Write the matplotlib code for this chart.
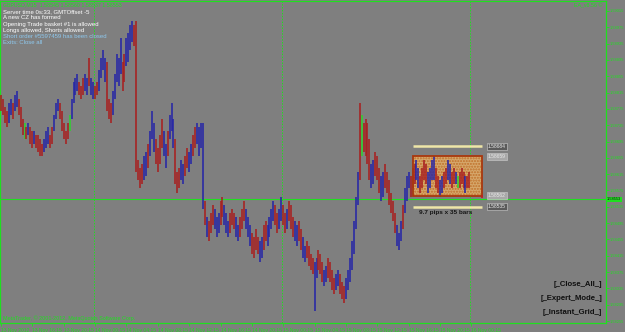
import numpy as np
import matplotlib.pyplot as plt
from matplotlib.patches import Rectangle

# GBPUSD M15 bars, values are pips above 1.58000
base = 1.58
pip = 0.0001

low_pips = [77, 76, 74, 73, 74, 76, 75, 77, 78, 76, 73, 71, 70, 70, 71, 69, 68, 69, 68, 67,
            66, 66, 67, 68, 69, 68, 69, 72, 75, 77, 75, 72, 70, 69, 70, 72, 75, 79, 81, 82,
            81, 80, 81, 82, 81, 83, 81, 80, 80, 81, 82, 85, 87, 84, 77, 75, 74, 76, 80, 84,
            83, 86, 82, 84, 88, 89, 92, 94, 93, 62, 60, 58, 59, 60, 61, 63, 66, 70, 67, 64,
            62, 64, 68, 66, 63, 66, 70, 72, 68, 59, 57, 58, 60, 59, 61, 63, 62, 64, 66, 68,
            69, 66, 68, 53, 49, 46, 45, 47, 49, 48, 46, 47, 49, 51, 49, 47, 46, 47, 49, 48,
            46, 45, 46, 48, 50, 48, 46, 44, 42, 41, 43, 42, 40, 41, 43, 45, 44, 46, 48, 50,
            49, 47, 48, 50, 49, 47, 48, 50, 48, 46, 45, 44, 45, 43, 41, 40, 41, 39, 38, 37,
            28, 36, 38, 37, 35, 34, 35, 36, 35, 33, 32, 33, 34, 32, 31, 30, 31, 33, 35, 38,
            42, 48, 54, 60, 66, 67, 66, 64, 60, 58, 59, 61, 60, 57, 55, 56, 58, 57, 54, 52,
            50, 47, 44, 43, 45, 48, 52, 55, 58, 56, 58, 59, 60, 58, 57, 58, 60, 59, 57, 58,
            60, 60, 58, 57, 56, 57, 58, 59, 60, 59, 58, 59, 59, 58, 58, 59, 58, 57, 58, 58,
            57, 57, 56, 57, 56, 55.5]
high_pips = [81, 80, 78, 77, 79, 80, 79, 81, 82, 80, 78, 75, 74, 73, 74, 73, 72, 72, 71, 71,
             70, 69, 70, 72, 73, 71, 73, 76, 79, 80, 79, 77, 74, 72, 74, 76, 80, 84, 85, 86,
             84, 83, 85, 86, 85, 90, 85, 84, 83, 84, 87, 90, 92, 90, 89, 80, 79, 82, 86, 91,
             90, 95, 89, 91, 95, 96, 98, 99, 98, 99, 65, 63, 64, 66, 67, 69, 72, 77, 74, 70,
             68, 71, 75, 72, 69, 72, 76, 79, 75, 70, 62, 63, 65, 64, 66, 68, 67, 69, 71, 73,
             74, 73, 74, 74, 55, 51, 50, 52, 54, 53, 51, 52, 55, 56, 54, 52, 50, 52, 53, 52,
             51, 49, 51, 53, 55, 53, 51, 49, 47, 46, 48, 46, 45, 46, 49, 50, 49, 51, 53, 55,
             54, 52, 53, 56, 54, 52, 53, 55, 54, 51, 50, 49, 50, 48, 46, 44, 45, 44, 42, 41,
             40, 41, 43, 42, 40, 38, 39, 41, 40, 38, 36, 37, 38, 37, 35, 34, 36, 38, 41, 45,
             50, 56, 62, 79, 76, 74, 75, 74, 70, 64, 65, 67, 66, 63, 61, 62, 64, 62, 60, 57,
             55, 52, 49, 47, 50, 54, 58, 61, 62, 61, 63, 64, 65, 63, 61, 63, 65, 64, 62, 63,
             65, 66, 63, 61, 60, 61, 62, 63, 65, 64, 62, 63, 62, 61, 62, 63, 62, 61, 61, 62,
             61, 60, 60, 60, 59, 57]
bar_dirs = ("dddduuduuddd" "gduddudddduu" "uddu" "uudd" "ddd" "guuu"
            "uddduuduuddu" "uuudddu" "uuuud" "duuuudd" "d" "dduud" "uuudd" "dduud"
            "uuudd" "duudduudduu" "uud" "ud"
            "dduuudduuuddduuddduuuddddu" "udduuuudduuddu" "ddd" "uudduuddd" "d"
            "uuddduudddduuddduuu" "uuuudgdd" "dduuddduudd" "ddddu" "uudu" "u"
            "uddduudddduuuudduudduuddugdddudd")

price_ticks = [1.59015, 1.58975, 1.58935, 1.58895, 1.58855, 1.58815, 1.58775, 1.58735,
               1.58695, 1.58655, 1.58615, 1.58575, 1.58535, 1.58495, 1.58455, 1.58415,
               1.58375, 1.58335, 1.58295, 1.58255]
time_labels = ["13 Nov 2012", "13 Nov 16:15", "13 Nov 20:15", "14 Nov 00:15", "14 Nov 04:15",
               "14 Nov 08:15", "14 Nov 12:15", "14 Nov 16:15", "14 Nov 20:15", "15 Nov 00:15",
               "15 Nov 04:15", "15 Nov 08:15", "15 Nov 12:15", "15 Nov 16:15", "15 Nov 20:15",
               "16 Nov 00:15"]
day_separators = [47.5, 143.5, 239.5]
bid = 1.58553
box_top, box_bottom = 1.58659, 1.58562
level_high, level_low = 1.58684, 1.58535
box_start, box_end = 210.4, 245.2

info_lines = ["Server time 0s:33, GMTOffset -5", "A new CZ has formed",
              "Opening Trade basket #1 is allowed", "Longs allowed, Shorts allowed",
              "Short order #5597459 has been closed", "Exits: Close all"]
info_colors = ["white", "white", "white", "white", "#8ec8ee", "#8ec8ee"]
buttons = ["[_Close_All_]", "[_Expert_Mode_]", "[_Instant_Grid_]"]

green = "#1fe01f"
bg = "#7f7f7f"
colour_map = {"u": "#2626a6", "d": "#a82020", "g": "#30d030"}

n = min(len(low_pips), len(high_pips), len(bar_dirs))
idx = np.arange(n)
lows = base + np.array(low_pips[:n]) * pip
highs = base + np.array(high_pips[:n]) * pip
cols = [colour_map[c] for c in bar_dirs[:n]]

fig = plt.figure(figsize=(6.25, 3.32), dpi=100, facecolor=bg)
ax = fig.add_axes([0, 9 / 332, 606 / 625, 322 / 332], facecolor=bg)
ax.set_xlim(-0.51, 308.7)
ax.set_ylim(1.582501, 1.590395)

for s in ax.spines.values():
    s.set_color(green)
    s.set_linewidth(0.9)

# period separators and bid line
for d in day_separators:
    ax.axvline(d, color=green, lw=0.7, ls=(0, (1.5, 1.5)), zorder=1)
ax.axhline(bid, color=green, lw=0.8, zorder=1)

# consolidation box
ax.add_patch(Rectangle((box_start, box_bottom), box_end - box_start, box_top - box_bottom,
                       facecolor="#d6a86c", edgecolor="#c0702a", hatch="......", lw=0, zorder=2))
ax.add_patch(Rectangle((box_start, box_bottom), box_end - box_start, box_top - box_bottom,
                       facecolor="none", edgecolor="#a8380e", lw=1.3, zorder=4))
ax.hlines([level_high, level_low], box_start, box_end, color="#eee6a8", lw=1.8, zorder=3)

ax.vlines(idx, lows, highs, colors=cols, lw=1.15, zorder=3)

ax.text((box_start + box_end) / 2 - 1, 1.58522, "9.7 pips x 35 bars", fontsize=4.6,
        fontweight="bold", color="#151515", ha="center", va="center",
        family="Liberation Sans", zorder=5)
for price, fc in [(level_high, "#5a5a5a"), (box_top, "#a8a8a8"),
                  (box_bottom, "#a8a8a8"), (level_low, "#5a5a5a")]:
    ax.text(248.5, price, f"{price:.5f}", fontsize=3.6, color="#e8e8e8", va="center",
            family="Liberation Sans", zorder=5,
            bbox=dict(boxstyle="square,pad=0.2", fc=fc, ec="#d0d0d0", lw=0.4))
ax.vlines(245.6, box_bottom - 0.5 * pip, box_bottom + 0.3 * pip, color="#c02020", lw=1.2, zorder=5)

# axes ticks
ax.yaxis.tick_right()
ax.set_yticks(price_ticks)
ax.set_yticklabels([f"{p:.5f}" for p in price_ticks])
ax.set_xticks(np.arange(len(time_labels)) * 16)
ax.set_xticklabels(time_labels, ha="left")
ax.tick_params(axis="x", colors=green, labelsize=3.6, length=2.5, width=0.6, pad=1.2)
ax.tick_params(axis="y", colors=green, labelsize=2.9, length=2, width=0.6, pad=0.6)
for lab in ax.get_xticklabels() + ax.get_yticklabels():
    lab.set_family("Liberation Sans")

ax.text(309.3, bid, "1.58553", fontsize=2.9, color="#101010", va="center",
        family="Liberation Sans", clip_on=False, zorder=6,
        bbox=dict(boxstyle="square,pad=0.2", fc=green, ec=green, lw=0))


def px(x, y):
    return x / 625, 1 - y / 332


fig.text(*px(3, 5), "GBPUSD,M15  1.58545 1.58560 1.58537 1.58553", fontsize=3.8,
         color=green, va="center", family="Liberation Sans")
for k, (line, c) in enumerate(zip(info_lines, info_colors)):
    fig.text(*px(3, 11.5 + 6.3 * k), line, fontsize=4.3, color=c, va="center",
             family="Liberation Sans")
fig.text(*px(602, 6), "EA_v8.56 \u00a9", fontsize=3.8, color=green, ha="right", va="center",
         family="Liberation Sans")
fig.text(*px(3, 318.5), "MetaTrader, \u00a9 2001-2012, MetaQuotes Software Corp.", fontsize=3.9,
         color=green, va="center", family="Liberation Sans")
for k, b in enumerate(buttons):
    fig.text(*px(602, 284 + 14.5 * k), b, fontsize=5.6, fontweight="bold", color="#101010",
             ha="right", va="center", family="Liberation Sans")

fig.savefig("out.png", dpi=100, facecolor=bg)
